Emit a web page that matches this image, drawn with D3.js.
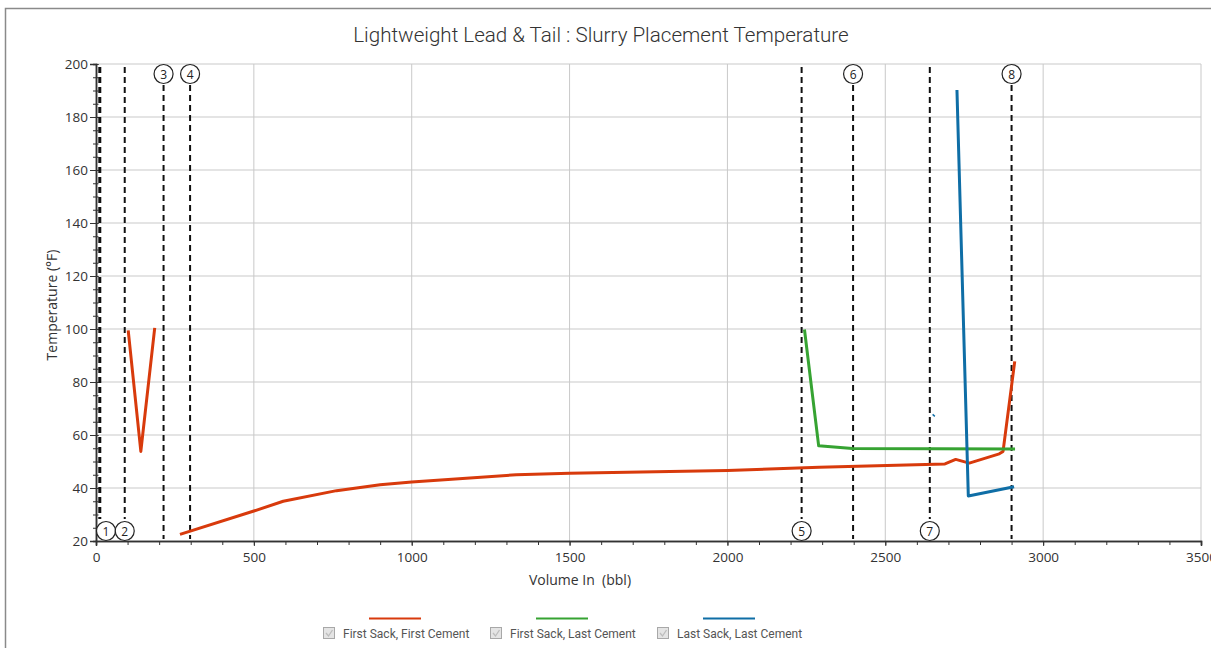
<!DOCTYPE html>
<html>
<head>
<meta charset="utf-8">
<script src="https://cdn.jsdelivr.net/npm/d3@7"></script>
<style>
  body { margin: 0; background: #fff; }
  svg { display: block; }
</style>
</head>
<body>
<div class="chart"></div>
<script>
// Slurry placement temperature chart
// values

var titleText = "Lightweight Lead & Tail : Slurry Placement Temperature";
var xLabel = "Volume In  (bbl)";
var yLabel = "Temperature (°F)";

var xTicks = [0, 500, 1000, 1500, 2000, 2500, 3000, 3500];
var yTicks = [20, 40, 60, 80, 100, 120, 140, 160, 180, 200];

var seriesNames = ["First Sack, First Cement", "First Sack, Last Cement", "Last Sack, Last Cement"];
var seriesColors = ["#d83a0c", "#36a332", "#0f6ea6"];

// each series is a list of segments, each segment is [volume, temp] pairs
var firstSackFirstCement = [
  [[102, 99.5], [142, 53.8], [186, 100.4]],
  [[266, 22.5], [500, 31.3], [593, 35.0], [762, 39.0], [900, 41.2], [1000, 42.3],
   [1331, 45.0], [1500, 45.6], [2000, 46.6], [2291, 47.8], [2689, 49.1],
   [2723, 50.8], [2766, 49.4], [2861, 52.9], [2873, 53.8], [2910, 87.8]]
];
var firstSackLastCement = [
  [[2244, 99.8], [2289, 55.9], [2396, 54.9], [2911, 54.7]]
];
var lastSackLastCement = [
  [[2727, 190.2], [2763, 37.0], [2908, 40.5]],
  [[2652, 67.2], [2655, 67.6]]
];

var markerVols = [12, 91, 214, 298, 2235, 2398, 2641, 2900];
var markerNames = ["1", "2", "3", "4", "5", "6", "7", "8"];
var markerSide = ["bottom", "bottom", "top", "top", "bottom", "top", "bottom", "top"];

var W = 1211, H = 648;
var margin = {top: 64, right: 10, bottom: 107, left: 96};
var plotW = 1201 - margin.left,
    plotH = 541 - margin.top;

var svg = d3.select(".chart").append("svg")
  .attr("width", W)
  .attr("height", H);

svg.append("rect")
  .attr("x", 5.5).attr("y", 8.5)
  .attr("width", 1215).attr("height", 660)
  .attr("fill", "#fff")
  .attr("stroke", "#8a8a8a")
  .attr("stroke-width", 1.5);

svg.append("text")
  .attr("x", 601).attr("y", 42)
  .attr("text-anchor", "middle")
  .attr("font-family", "Roboto")
  .attr("font-weight", 300)
  .attr("font-size", 20.6)
  .attr("fill", "#333")
  .text(titleText);

var x = d3.scaleLinear().domain([0, 3500]).range([margin.left, margin.left + plotW]);
var y = d3.scaleLinear().domain([20, 200]).range([margin.top + plotH, margin.top]);

// grid
var grid = svg.append("g");
grid.selectAll(".gx").data(xTicks.slice(1)).enter().append("line")
  .attr("x1", function(d) { return x(d); }).attr("x2", function(d) { return x(d); })
  .attr("y1", y(200)).attr("y2", y(20))
  .attr("stroke", "#c9c9c9").attr("stroke-width", 1);
grid.selectAll(".gy").data(yTicks.slice(1)).enter().append("line")
  .attr("x1", x(0)).attr("x2", x(3500))
  .attr("y1", function(d) { return y(d); }).attr("y2", function(d) { return y(d); })
  .attr("stroke", "#c9c9c9").attr("stroke-width", 1);

// axes
var xMinor = svg.append("g")
  .attr("transform", "translate(0," + y(20) + ")")
  .call(d3.axisBottom(x).tickValues(d3.range(0, 3501, 100)).tickSize(4).tickFormat(""));
var xAxis = svg.append("g")
  .attr("transform", "translate(0," + y(20) + ")")
  .call(d3.axisBottom(x).tickValues(xTicks).tickSize(5).tickPadding(6).tickFormat(d3.format("d")));

var yMinor = svg.append("g")
  .attr("transform", "translate(" + x(0) + ",0)")
  .call(d3.axisLeft(y).tickValues(d3.range(20, 201, 5)).tickSize(3).tickFormat(""));
yMinor.selectAll(".tick line").attr("x1", 2.5);
var yAxis = svg.append("g")
  .attr("transform", "translate(" + x(0) + ",0)")
  .call(d3.axisLeft(y).tickValues(yTicks).tickSize(6).tickPadding(2).tickFormat(d3.format("d")));
yAxis.selectAll(".tick line").attr("x1", -6).attr("x2", 2.5);

[xMinor, xAxis, yMinor, yAxis].forEach(function(a) {
  a.select(".domain").attr("stroke", "#333").attr("stroke-width", 1.5);
  a.selectAll(".tick line").attr("stroke", "#333");
  a.selectAll(".tick text")
    .attr("font-family", "Open Sans")
    .attr("font-size", 13.5)
    .attr("fill", "#333");
});

svg.append("text")
  .attr("x", 580).attr("y", 585)
  .attr("text-anchor", "middle")
  .attr("font-family", "Open Sans")
  .attr("font-size", 14)
  .attr("fill", "#333")
  .attr("xml:space", "preserve")
  .text(xLabel);

svg.append("text")
  .attr("transform", "translate(57,305) rotate(-90)")
  .attr("text-anchor", "middle")
  .attr("font-family", "Open Sans")
  .attr("font-size", 14)
  .attr("fill", "#333")
  .text(yLabel);

// event markers
var mk = svg.append("g");
markerVols.forEach(function(v, i) {
  var mx = x(v);
  var top = markerSide[i] == "top";
  var cx = Math.max(mx, x(0) + 10);
  var cy = top ? y(200) + 10 : y(20) - 10;
  mk.append("line")
    .attr("x1", mx).attr("x2", mx)
    .attr("y1", top ? cy + 11 : y(200) + 3)
    .attr("y2", top ? y(20) - 2 : cy - 12)
    .attr("stroke", "#111")
    .attr("stroke-width", i == 0 ? 3 : 2)
    .attr("stroke-dasharray", "6,4");
  mk.append("circle")
    .attr("cx", cx).attr("cy", cy).attr("r", 9.5)
    .attr("fill", "#fff")
    .attr("stroke", "#222")
    .attr("stroke-width", 1.2);
  mk.append("text")
    .attr("x", cx).attr("y", cy + 4.5)
    .attr("text-anchor", "middle")
    .attr("font-family", "Open Sans")
    .attr("font-size", 12)
    .attr("fill", "#222")
    .text(markerNames[i]);
});

// series lines
var line = d3.line()
  .x(function(d) { return x(d[0]); })
  .y(function(d) { return y(d[1]); });

var allSeries = [firstSackFirstCement, firstSackLastCement, lastSackLastCement];
allSeries.forEach(function(segs, i) {
  svg.append("g").selectAll("path").data(segs).enter().append("path")
    .attr("d", line)
    .attr("fill", "none")
    .attr("stroke", seriesColors[i])
    .attr("stroke-width", 3)
    .attr("stroke-linejoin", "round");
});

// legend
var legendX = [323, 490, 657];
var legend = svg.append("g");
seriesNames.forEach(function(name, i) {
  var lx = legendX[i];
  legend.append("line")
    .attr("x1", lx + 46).attr("x2", lx + 98)
    .attr("y1", 618.5).attr("y2", 618.5)
    .attr("stroke", seriesColors[i])
    .attr("stroke-width", 2);
  legend.append("rect")
    .attr("x", lx + 0.5).attr("y", 627.5)
    .attr("width", 11).attr("height", 11)
    .attr("fill", "#e4e4e4")
    .attr("stroke", "#a8a8a8");
  legend.append("path")
    .attr("d", "M" + (lx + 3) + ",633 L" + (lx + 5.5) + ",636 L" + (lx + 9.5) + ",630")
    .attr("fill", "none")
    .attr("stroke", "#bdbdbd")
    .attr("stroke-width", 1.3);
  legend.append("text")
    .attr("x", lx + 20).attr("y", 638)
    .attr("font-family", "Roboto")
    .attr("font-size", 12)
    .attr("fill", "#555")
    .text(name);
});
</script>
</body>
</html>
